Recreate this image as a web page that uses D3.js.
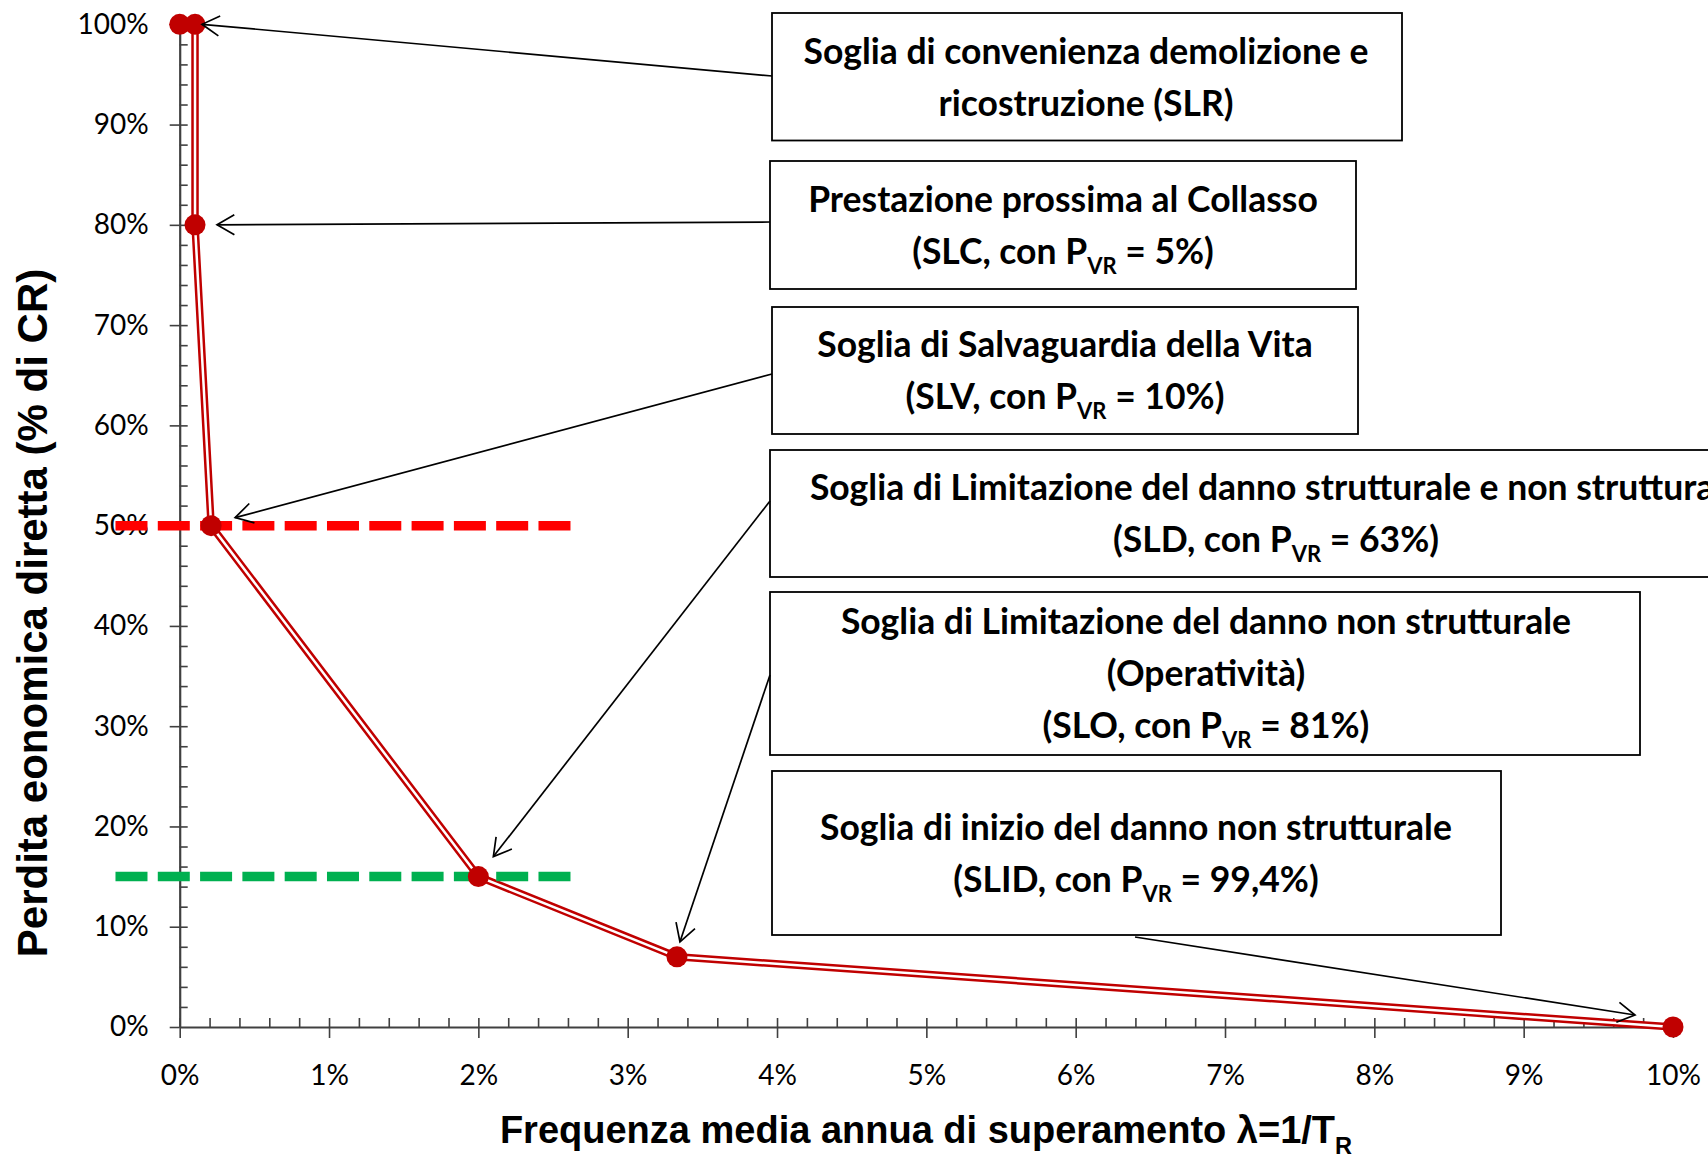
<!DOCTYPE html>
<html><head><meta charset="utf-8">
<script src="https://cdn.jsdelivr.net/npm/d3@7"></script>
<style>body{margin:0;background:#fff;overflow:hidden}</style>
</head><body><svg id="c" width="1708" height="1155" xmlns="http://www.w3.org/2000/svg"></svg>
<script>
// ---- data ----
const freq = [0, 0.001026, 0.001026, 0.002105, 0.02, 0.0333, 0.10];
const loss = [1.00, 1.00, 0.80, 0.50, 0.15, 0.07, 0.00];
const xTicks = [0, 0.01, 0.02, 0.03, 0.04, 0.05, 0.06, 0.07, 0.08, 0.09, 0.10];
const xTickLabels = ["0%","1%","2%","3%","4%","5%","6%","7%","8%","9%","10%"];
const yTicks = [0, 0.1, 0.2, 0.3, 0.4, 0.5, 0.6, 0.7, 0.8, 0.9, 1.0];
const yTickLabels = ["0%","10%","20%","30%","40%","50%","60%","70%","80%","90%","100%"];
const thresholdLevels = [0.50, 0.15];
const thresholdNames = ["SLV", "SLD"];
const thresholdSpan = [-0.0043, 0.0262];
const labelLines = [
  ["Soglia di convenienza demolizione e", "ricostruzione (SLR)"],
  ["Prestazione prossima al Collasso", "(SLC, con P_{VR} = 5%)"],
  ["Soglia di Salvaguardia della Vita", "(SLV, con P_{VR} = 10%)"],
  ["Soglia di Limitazione del danno strutturale e non strutturale", "(SLD, con P_{VR} = 63%)"],
  ["Soglia di Limitazione del danno non strutturale", "(Operatività)", "(SLO, con P_{VR} = 81%)"],
  ["Soglia di inizio del danno non strutturale", "(SLID, con P_{VR} = 99,4%)"]
];
const labelTargets = [1, 2, 3, 4, 5, 6];   // index of the point each label points to
const xTitle = "Frequenza media annua di superamento λ=1/T_{R}";
const yTitle = "Perdita eonomica diretta (% di CR)";

// ---- layout ----
const svg = d3.select("#c");
const x = d3.scaleLinear([0, 0.10], [179.7, 1673]);
const y = d3.scaleLinear([0, 1], [1027, 24.3]);
const axisColor = "#404040";
const lineRed = "#C00000";
const thresholdColors = ["#FF0000", "#00B050"];

// box geometry (pixels) and arrow anchors
const boxes = [
  {x0: 772, y0: 13,  x1: 1402, y1: 140.5, cx: 1086, start: [772, 76],  off: [7, 0]},
  {x0: 770, y0: 161, x1: 1356, y1: 289,   cx: 1063, start: [770, 222], off: [22, 0]},
  {x0: 772, y0: 307, x1: 1358, y1: 434,   cx: 1065, start: [772, 374], off: [24, -8]},
  {x0: 770, y0: 450, x1: 1790, y1: 577,   cx: 1276, start: [770, 501], off: [15, -20]},
  {x0: 770, y0: 592, x1: 1640, y1: 755,   cx: 1206, start: [770, 675], off: [3, -15]},
  {x0: 772, y0: 771, x1: 1501, y1: 935,   cx: 1136, start: [1135, 937], off: [-38, -12]}
];

// axes
const gx = svg.append("g").attr("transform", `translate(0,${y(0)})`);
gx.call(d3.axisBottom(x).tickValues(xTicks).tickFormat((d, i) => xTickLabels[i])
  .tickSize(11).tickSizeOuter(0).tickPadding(27));
const gxm = svg.append("g").attr("transform", `translate(0,${y(0)})`);
gxm.call(d3.axisTop(x).tickValues(d3.range(0, 50).map(i => i * 0.002)).tickFormat("")
  .tickSize(9).tickSizeOuter(0));
gxm.select(".domain").remove();
gxm.selectAll("text").remove();

const gy = svg.append("g").attr("transform", `translate(${x(0)},0)`);
gy.call(d3.axisLeft(y).tickValues(yTicks).tickFormat((d, i) => yTickLabels[i])
  .tickSize(10).tickSizeOuter(0).tickPadding(21));
const gym = svg.append("g").attr("transform", `translate(${x(0)},0)`);
gym.call(d3.axisRight(y).tickValues(d3.range(1, 50).map(i => i * 0.02)).tickFormat("")
  .tickSize(8).tickSizeOuter(0));
gym.select(".domain").remove();
gym.selectAll("text").remove();

svg.selectAll(".domain").attr("stroke", axisColor).attr("stroke-width", 2.2);
svg.selectAll(".tick line").attr("stroke", axisColor).attr("stroke-width", 1.6);
svg.selectAll(".tick text").attr("fill", "#000")
  .style("font-family", "Lato, 'Liberation Sans', sans-serif").style("font-size", "28px");

// main double line
const line = d3.line().x(i => x(freq[i])).y(i => y(loss[i]));
const idx = d3.range(freq.length);
svg.append("path").attr("d", line(idx)).attr("fill", "none")
  .attr("stroke", lineRed).attr("stroke-width", 7.5).attr("stroke-linejoin", "round");
svg.append("path").attr("d", line(idx)).attr("fill", "none")
  .attr("stroke", "#fff").attr("stroke-width", 2.5).attr("stroke-linejoin", "round");

// threshold dashed lines
svg.selectAll("line.thr").data(thresholdLevels).join("line").attr("class", "thr")
  .attr("x1", x(thresholdSpan[0])).attr("x2", x(thresholdSpan[1]))
  .attr("y1", d => y(d)).attr("y2", d => y(d))
  .attr("stroke", (d, i) => thresholdColors[i]).attr("stroke-width", 9.5)
  .attr("stroke-dasharray", "32,10.3");

// points
svg.selectAll("circle.pt").data(idx).join("circle").attr("class", "pt")
  .attr("cx", i => x(freq[i])).attr("cy", i => y(loss[i])).attr("r", 10.5)
  .attr("fill", lineRed);

// helper: text with _{sub}
function richText(sel, str, size) {
  const parts = str.split(/_\{(.*?)\}/).filter((p, k) => p || k % 2 === 1);
  const raw = str.split(/_\{(.*?)\}/);
  let pendingUp = 0;
  raw.forEach((p, k) => {
    if (k % 2 === 1) {
      sel.append("tspan").attr("dy", size * 0.28).style("font-size", (size * 0.62) + "px").text(p);
      pendingUp = -size * 0.28;
    } else if (p) {
      const t = sel.append("tspan").text(p);
      if (pendingUp) { t.attr("dy", pendingUp); pendingUp = 0; }
    }
  });
}

// boxes and arrows
const boxFont = 35.5;
boxes.forEach((b, k) => {
  const g = svg.append("g");
  g.append("rect").attr("x", b.x0).attr("y", b.y0).attr("width", b.x1 - b.x0).attr("height", b.y1 - b.y0)
    .attr("fill", "#fff").attr("stroke", "#000").attr("stroke-width", 1.8);
  const lines = labelLines[k];
  const cy = (b.y0 + b.y1) / 2;
  const step = 52;
  lines.forEach((t, j) => {
    const ty = cy + (j - (lines.length - 1) / 2) * step;
    const txt = g.append("text").attr("x", b.cx).attr("y", ty + boxFont * 0.36)
      .attr("text-anchor", "middle")
      .style("font-family", "Lato, 'Liberation Sans', sans-serif").style("font-weight", "bold")
      .style("font-size", boxFont + "px").attr("fill", "#000");
    richText(txt, t, boxFont);
  });
  // arrow
  const p = labelTargets[k];
  const tip = [x(freq[p]) + b.off[0], y(loss[p]) + b.off[1]];
  const s = b.start;
  svg.append("line").attr("x1", s[0]).attr("y1", s[1]).attr("x2", tip[0]).attr("y2", tip[1])
    .attr("stroke", "#000").attr("stroke-width", 1.7);
  const ang = Math.atan2(s[1] - tip[1], s[0] - tip[0]);
  const L = 20, h = Math.PI / 6;
  const a1 = [tip[0] + L * Math.cos(ang + h), tip[1] + L * Math.sin(ang + h)];
  const a2 = [tip[0] + L * Math.cos(ang - h), tip[1] + L * Math.sin(ang - h)];
  svg.append("path").attr("d", `M${a1}L${tip}L${a2}`).attr("fill", "none")
    .attr("stroke", "#000").attr("stroke-width", 1.7);
});

// axis titles
const xt = svg.append("text").attr("x", 926).attr("y", 1143).attr("text-anchor", "middle")
  .style("font-family", "'Liberation Sans', Arial, sans-serif").style("font-weight", "bold")
  .style("font-size", "38px").attr("fill", "#000");
richText(xt, xTitle, 38);
svg.append("text").attr("transform", "translate(32,613) rotate(-90)").attr("text-anchor", "middle")
  .attr("dy", "0.35em")
  .style("font-family", "'Liberation Sans', Arial, sans-serif").style("font-weight", "bold")
  .style("font-size", "42px").attr("fill", "#000").text(yTitle);
</script></body></html>
